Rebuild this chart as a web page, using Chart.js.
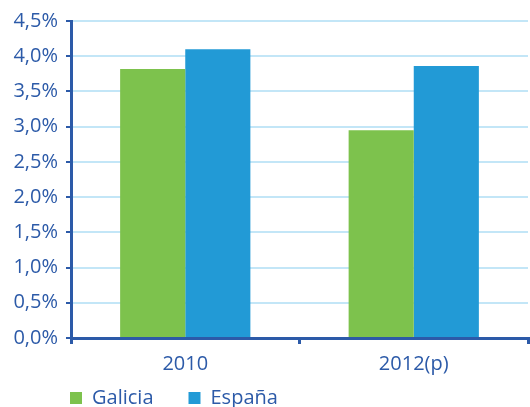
<!DOCTYPE html>
<html>
<head>
<meta charset="utf-8">
<script src="https://cdn.jsdelivr.net/npm/chart.js@4.4.0/dist/chart.umd.min.js"></script>
<style>
  body { margin: 0; background: #fff; }
  #wrap { width: 530px; height: 407px; }
</style>
</head>
<body>
<div id="wrap"><canvas id="myChart"></canvas></div>
<script>
var categories = ['2010', '2012(p)'];
var galicia = [3.82, 2.95];
var espana = [4.10, 3.86];
var yTicks = [0, 0.5, 1, 1.5, 2, 2.5, 3, 3.5, 4, 4.5];

var navy = '#2c5aa8';
var fontName = "'Open Sans', sans-serif";

// legend sits lower and further right than chart.js puts it
var moveLegend = {
  id: 'moveLegend',
  afterLayout: function (chart) {
    chart.legend.left = 35;
    chart.legend.top = 353;
  }
};

function draw_graph() {
  var ctx = document.getElementById('myChart').getContext('2d');
  var chart = new Chart(ctx, {
    type: 'bar',
    data: {
      labels: categories,
      datasets: [{
        label: 'Galicia',
        backgroundColor: '#7dc24d',
        data: galicia
      }, {
        label: 'España',
        backgroundColor: '#229ad6',
        data: espana
      }]
    },
    plugins: [moveLegend],
    options: {
      responsive: true,
      maintainAspectRatio: false,
      animation: false,
      events: [],
      layout: {
        padding: { top: 21, right: 2, bottom: -39, left: 0 }
      },
      datasets: {
        bar: { categoryPercentage: 0.57, barPercentage: 1 }
      },
      plugins: {
        title: { display: false },
        tooltip: { enabled: false },
        legend: {
          position: 'bottom',
          align: 'start',
          labels: {
            boxWidth: 12,
            boxHeight: 12,
            padding: 35,
            color: navy,
            font: { family: fontName, size: 20 }
          }
        }
      },
      scales: {
        x: {
          border: { color: navy, width: 3 },
          grid: {
            offset: true,
            drawOnChartArea: false,
            drawTicks: true,
            tickLength: 6,
            tickColor: navy,
            lineWidth: 3
          },
          ticks: {
            color: navy,
            padding: 8,
            font: { family: fontName, size: 20 }
          },
          afterFit: function (scale) { scale.height = 43; }
        },
        y: {
          min: 0,
          max: 4.5,
          border: { color: navy, width: 3 },
          grid: {
            color: '#c3e6f7',
            lineWidth: 2,
            tickColor: navy,
            tickLength: 5
          },
          afterBuildTicks: function (scale) {
            scale.ticks = yTicks.map(function (v) { return { value: v }; });
          },
          ticks: {
            color: navy,
            padding: 8,
            font: { family: fontName, size: 20 },
            callback: function (v) { return v.toFixed(1).replace('.', ',') + '%'; }
          },
          afterFit: function (scale) { scale.width = 71; }
        }
      }
    }
  });
}
draw_graph();
</script>
</body>
</html>
